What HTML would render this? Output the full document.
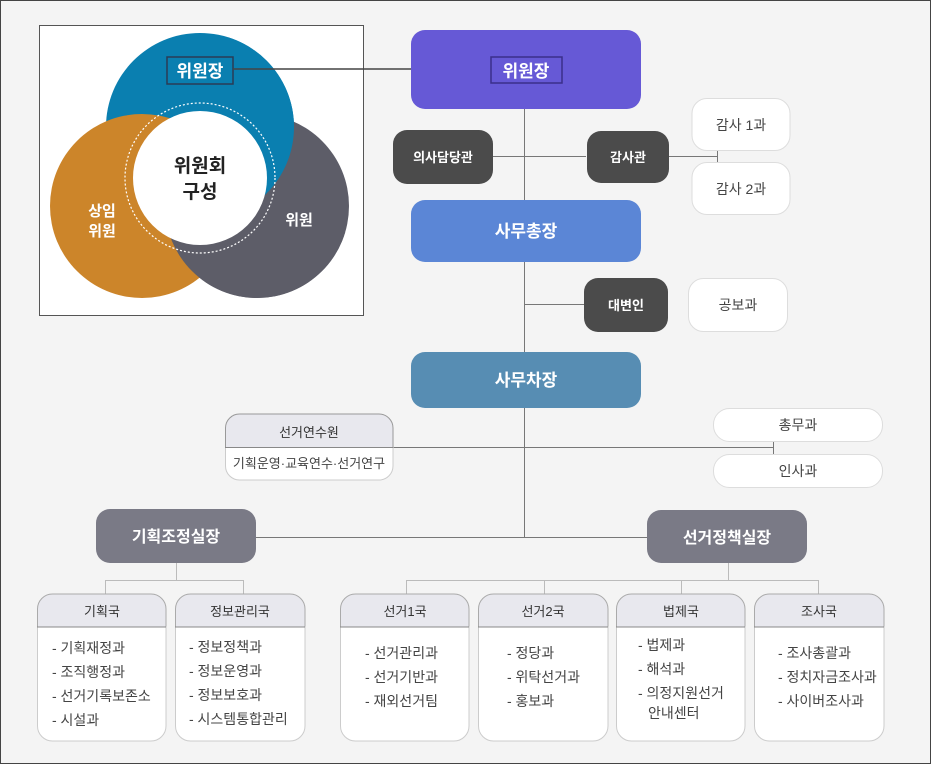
<!DOCTYPE html>
<html><head><meta charset="utf-8"><style>
html,body{margin:0;padding:0;background:#f4f4f4}
svg{display:block}
text{font-family:"Liberation Sans","Noto Sans CJK KR",sans-serif}
</style></head><body>
<svg width="931" height="764" viewBox="0 0 931 764" xmlns="http://www.w3.org/2000/svg">
<rect x="0.5" y="0.5" width="930" height="763" fill="#f4f4f4" stroke="#444" stroke-width="1"/>
<!-- Venn -->
<rect x="39.5" y="25.5" width="324" height="290" fill="#fff" stroke="#555"/>
<clipPath id="cg"><rect x="150" y="232" width="260" height="100"/></clipPath>
<clipPath id="cb"><rect x="228" y="0" width="180" height="234"/></clipPath>
<circle cx="200" cy="127" r="94" fill="#0a7fb0"/>
<circle cx="257" cy="206" r="92" fill="#5d5d68"/>
<circle cx="142" cy="206" r="92" fill="#cc852a"/>
<circle cx="257" cy="206" r="92" fill="#5d5d68" clip-path="url(#cg)"/>
<circle cx="200" cy="127" r="94" fill="#0a7fb0" clip-path="url(#cb)"/>
<circle cx="200" cy="178" r="75" fill="none" stroke="#fff" stroke-width="1.2" stroke-dasharray="2 2"/>
<circle cx="200" cy="178" r="67" fill="#fff"/>
<text x="200" y="172" text-anchor="middle" font-size="19" font-weight="bold" fill="#222">위원회</text>
<text x="200" y="198" text-anchor="middle" font-size="19" font-weight="bold" fill="#222">구성</text>
<text x="102" y="216" text-anchor="middle" font-size="15" font-weight="bold" fill="#fff">상임</text>
<text x="102" y="236" text-anchor="middle" font-size="15" font-weight="bold" fill="#fff">위원</text>
<text x="299" y="225" text-anchor="middle" font-size="15" font-weight="bold" fill="#fff">위원</text>
<rect x="167" y="57" width="66" height="27" fill="none" stroke="#2a3b55" stroke-width="1.5"/>
<text x="200" y="77" text-anchor="middle" font-size="17" font-weight="bold" fill="#fff">위원장</text>
<line x1="233" y1="69" x2="491" y2="69" stroke="#444" stroke-width="1.5"/>
<!-- connectors -->
<g stroke="#777" stroke-width="1" fill="none">
<line x1="524.5" y1="109" x2="524.5" y2="537"/>
<line x1="493" y1="156.5" x2="586" y2="156.5"/>
<line x1="669" y1="156.5" x2="717" y2="156.5"/>
<line x1="717.5" y1="151" x2="717.5" y2="162"/>
<line x1="524" y1="304.5" x2="584" y2="304.5"/>
<line x1="393" y1="447.5" x2="773" y2="447.5"/>
<line x1="773.5" y1="441" x2="773.5" y2="454"/>
<line x1="256" y1="537.5" x2="647" y2="537.5"/>
</g>
<g stroke="#bbb" stroke-width="1" fill="none">
<line x1="176.5" y1="563" x2="176.5" y2="580"/>
<line x1="105" y1="580.5" x2="243" y2="580.5"/>
<line x1="105.5" y1="580" x2="105.5" y2="594"/>
<line x1="243.5" y1="580" x2="243.5" y2="594"/>
<line x1="728.5" y1="563" x2="728.5" y2="580"/>
<line x1="406" y1="580.5" x2="818" y2="580.5"/>
<line x1="406.5" y1="580" x2="406.5" y2="594"/>
<line x1="544.5" y1="580" x2="544.5" y2="594"/>
<line x1="681.5" y1="580" x2="681.5" y2="594"/>
<line x1="818.5" y1="580" x2="818.5" y2="594"/>
</g>
<!-- top boxes -->
<rect x="411" y="30" width="230" height="79" rx="14" fill="#6659d6"/>
<rect x="491" y="57" width="71" height="26" fill="none" stroke="#3a2f8a" stroke-width="1.5"/>
<text x="526" y="77" text-anchor="middle" font-size="17" font-weight="bold" fill="#fff">위원장</text>
<rect x="393" y="130" width="100" height="54" rx="14" fill="#4b4b4b"/>
<text x="443" y="162" text-anchor="middle" font-size="13" font-weight="bold" fill="#fff">의사담당관</text>
<rect x="587" y="131" width="82" height="52" rx="14" fill="#4b4b4b"/>
<text x="628" y="162" text-anchor="middle" font-size="13" font-weight="bold" fill="#fff">감사관</text>
<rect x="692" y="98.5" width="98" height="52" rx="15" fill="#fff" stroke="#ddd"/>
<text x="741" y="130" text-anchor="middle" font-size="14" fill="#444">감사 1과</text>
<rect x="692" y="162.5" width="98" height="52" rx="15" fill="#fff" stroke="#ddd"/>
<text x="741" y="194" text-anchor="middle" font-size="14" fill="#444">감사 2과</text>
<rect x="411" y="200" width="230" height="62" rx="14" fill="#5b86d6"/>
<text x="526" y="237" text-anchor="middle" font-size="17" font-weight="bold" fill="#fff">사무총장</text>
<rect x="584" y="278" width="84" height="54" rx="14" fill="#4b4b4b"/>
<text x="626" y="310" text-anchor="middle" font-size="13" font-weight="bold" fill="#fff">대변인</text>
<rect x="688.5" y="278.5" width="99" height="53" rx="15" fill="#fff" stroke="#ddd"/>
<text x="738" y="310" text-anchor="middle" font-size="14" fill="#444">공보과</text>
<rect x="411" y="352" width="230" height="56" rx="14" fill="#578db3"/>
<text x="526" y="386" text-anchor="middle" font-size="17" font-weight="bold" fill="#fff">사무차장</text>
<!-- 선거연수원 -->
<path d="M225.5 447.5 V428 a14 14 0 0 1 14 -14 H379 a14 14 0 0 1 14 14 V447.5 Z" fill="#e8e8ee" stroke="#999"/>
<path d="M225.5 447.5 V466 a14 14 0 0 0 14 14 H379 a14 14 0 0 0 14 -14 V447.5 Z" fill="#fff" stroke="#ccc"/>
<line x1="225" y1="447.5" x2="393" y2="447.5" stroke="#888"/>
<text x="309" y="437" text-anchor="middle" font-size="13" fill="#333">선거연수원</text>
<text x="309" y="468" text-anchor="middle" font-size="13" fill="#444">기획운영·교육연수·선거연구</text>
<rect x="713.5" y="408.5" width="169" height="33" rx="16" fill="#fff" stroke="#ddd"/>
<text x="798" y="430" text-anchor="middle" font-size="14" fill="#444">총무과</text>
<rect x="713.5" y="454.5" width="169" height="33" rx="16" fill="#fff" stroke="#ddd"/>
<text x="798" y="476" text-anchor="middle" font-size="14" fill="#444">인사과</text>
<rect x="96" y="509" width="160" height="54" rx="14" fill="#7a7a86"/>
<text x="176" y="542" text-anchor="middle" font-size="16" font-weight="bold" fill="#fff">기획조정실장</text>
<rect x="647" y="510" width="160" height="53" rx="14" fill="#7a7a86"/>
<text x="727" y="543" text-anchor="middle" font-size="16" font-weight="bold" fill="#fff">선거정책실장</text>
<!-- bottom boxes -->
<g font-size="14" fill="#444">
<g transform="translate(37,594)">
<path d="M0.5 33 V15 a15 15 0 0 1 15 -15 H114 a15 15 0 0 1 15 15 V33 Z" fill="#e8e8ee" stroke="#aaa"/>
<path d="M0.5 33 V132 a15 15 0 0 0 15 15 H114 a15 15 0 0 0 15 -15 V33 Z" fill="#fff" stroke="#ccc"/>
<line x1="0" y1="33" x2="129" y2="33" stroke="#888"/>
<text x="65" y="22" text-anchor="middle" font-size="13" fill="#333">기획국</text>
<text x="15" y="59">- 기획재정과</text><text x="15" y="83">- 조직행정과</text><text x="15" y="107">- 선거기록보존소</text><text x="15" y="131">- 시설과</text>
</g>
<g transform="translate(175,594)">
<path d="M0.5 33 V15 a15 15 0 0 1 15 -15 H115 a15 15 0 0 1 15 15 V33 Z" fill="#e8e8ee" stroke="#aaa"/>
<path d="M0.5 33 V132 a15 15 0 0 0 15 15 H115 a15 15 0 0 0 15 -15 V33 Z" fill="#fff" stroke="#ccc"/>
<line x1="0" y1="33" x2="130" y2="33" stroke="#888"/>
<text x="65" y="22" text-anchor="middle" font-size="13" fill="#333">정보관리국</text>
<text x="14" y="58">- 정보정책과</text><text x="14" y="82">- 정보운영과</text><text x="14" y="106">- 정보보호과</text><text x="14" y="130">- 시스템통합관리</text>
</g>
<g transform="translate(340,594)">
<path d="M0.5 33 V15 a15 15 0 0 1 15 -15 H114 a15 15 0 0 1 15 15 V33 Z" fill="#e8e8ee" stroke="#aaa"/>
<path d="M0.5 33 V132 a15 15 0 0 0 15 15 H114 a15 15 0 0 0 15 -15 V33 Z" fill="#fff" stroke="#ccc"/>
<line x1="0" y1="33" x2="129" y2="33" stroke="#888"/>
<text x="65" y="22" text-anchor="middle" font-size="13" fill="#333">선거1국</text>
<text x="25" y="64">- 선거관리과</text><text x="25" y="88">- 선거기반과</text><text x="25" y="112">- 재외선거팀</text>
</g>
<g transform="translate(478,594)">
<path d="M0.5 33 V15 a15 15 0 0 1 15 -15 H115 a15 15 0 0 1 15 15 V33 Z" fill="#e8e8ee" stroke="#aaa"/>
<path d="M0.5 33 V132 a15 15 0 0 0 15 15 H115 a15 15 0 0 0 15 -15 V33 Z" fill="#fff" stroke="#ccc"/>
<line x1="0" y1="33" x2="130" y2="33" stroke="#888"/>
<text x="65" y="22" text-anchor="middle" font-size="13" fill="#333">선거2국</text>
<text x="29" y="64">- 정당과</text><text x="29" y="88">- 위탁선거과</text><text x="29" y="112">- 홍보과</text>
</g>
<g transform="translate(616,594)">
<path d="M0.5 33 V15 a15 15 0 0 1 15 -15 H114 a15 15 0 0 1 15 15 V33 Z" fill="#e8e8ee" stroke="#aaa"/>
<path d="M0.5 33 V132 a15 15 0 0 0 15 15 H114 a15 15 0 0 0 15 -15 V33 Z" fill="#fff" stroke="#ccc"/>
<line x1="0" y1="33" x2="129" y2="33" stroke="#888"/>
<text x="65" y="22" text-anchor="middle" font-size="13" fill="#333">법제국</text>
<text x="22" y="56">- 법제과</text><text x="22" y="80">- 해석과</text><text x="22" y="104">- 의정지원선거</text><text x="32" y="124">안내센터</text>
</g>
<g transform="translate(754,594)">
<path d="M0.5 33 V15 a15 15 0 0 1 15 -15 H115 a15 15 0 0 1 15 15 V33 Z" fill="#e8e8ee" stroke="#aaa"/>
<path d="M0.5 33 V132 a15 15 0 0 0 15 15 H115 a15 15 0 0 0 15 -15 V33 Z" fill="#fff" stroke="#ccc"/>
<line x1="0" y1="33" x2="130" y2="33" stroke="#888"/>
<text x="65" y="22" text-anchor="middle" font-size="13" fill="#333">조사국</text>
<text x="24" y="64">- 조사총괄과</text><text x="24" y="88">- 정치자금조사과</text><text x="24" y="112">- 사이버조사과</text>
</g>
</g>
</svg>
</body></html>
